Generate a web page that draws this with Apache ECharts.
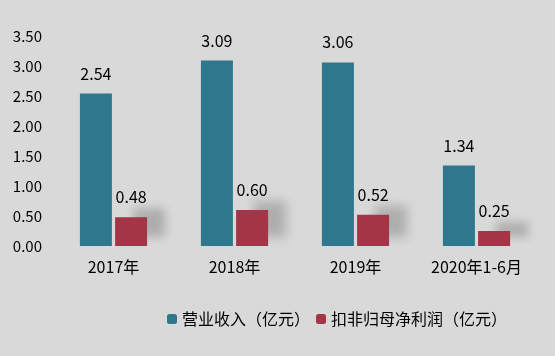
<!DOCTYPE html>
<html><head><meta charset="utf-8">
<script src="https://cdn.jsdelivr.net/npm/echarts@6/dist/echarts.min.js"></script>
<style>html,body{margin:0;padding:0;background:#d9d9d9;}#c{width:555px;height:356px;}</style>
</head><body><div id="c"></div>
<script>
const categories = ['2017年','2018年','2019年','2020年1-6月'];
const revenue = [2.54, 3.09, 3.06, 1.34];
const netProfit = [0.48, 0.60, 0.52, 0.25];
const seriesNames = ['营业收入（亿元）','扣非归母净利润（亿元）'];
const yTicks = {min: 0, max: 3.5, interval: 0.5};

const font = '"Noto Sans CJK SC", "Noto Sans", sans-serif';
const chart = echarts.init(document.getElementById('c'));
chart.setOption({
  backgroundColor: '#d9d9d9',
  textStyle: {fontFamily: font},
  grid: {left: 53, right: 18, top: 36, bottom: 110},
  legend: {
    bottom: 24, left: 162, itemWidth: 10, itemHeight: 10, itemGap: 6,
    textStyle: {fontSize: 16, color: '#000', fontFamily: font},
    data: seriesNames
  },
  xAxis: {
    type: 'category', data: categories,
    axisLine: {show: false}, axisTick: {show: false},
    axisLabel: {fontSize: 16, color: '#000', margin: 13, fontFamily: font}
  },
  yAxis: {
    type: 'value', min: yTicks.min, max: yTicks.max, interval: yTicks.interval,
    splitLine: {show: false}, axisLine: {show: false}, axisTick: {show: false},
    axisLabel: {fontSize: 15, color: '#000', margin: 11, fontFamily: font,
      formatter: v => v.toFixed(2)}
  },
  series: [
    {name: seriesNames[0], type: 'bar', data: revenue, barWidth: 32, barGap: '10%',
      itemStyle: {color: '#2e778d'},
      label: {show: true, position: 'top', distance: 12, fontSize: 16, color: '#000',
        formatter: p => p.value.toFixed(2)}},
    {name: seriesNames[1], type: 'bar', data: netProfit, barWidth: 32,
      itemStyle: {color: '#a33546', shadowColor: 'rgba(0,0,0,0.2)', shadowBlur: 10,
        shadowOffsetX: 18, shadowOffsetY: -9},
      label: {show: true, position: 'top', distance: 12, fontSize: 16, color: '#000',
        formatter: p => p.value.toFixed(2)}}
  ]
});
</script></body></html>
